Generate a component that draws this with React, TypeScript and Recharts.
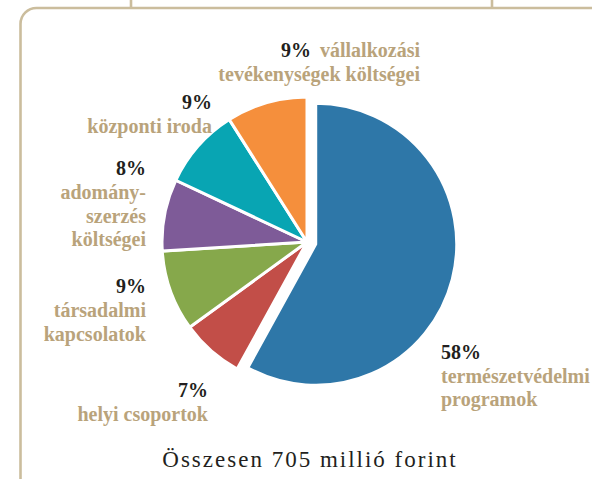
import { Cell, Pie, PieChart } from 'recharts';

// Költségmegoszlás – kördiagram, a nagy (kék) szelet kiemelve
const categories = [
  'természetvédelmi programok',
  'helyi csoportok',
  'társadalmi kapcsolatok',
  'adományszerzés költségei',
  'központi iroda',
  'vállalkozási tevékenységek költségei',
];
const shares = [58, 7, 9, 8, 9, 9];
const sliceColors = ['#2e77a8', '#c24e48', '#86a84b', '#7e5b98', '#08a5b3', '#f58f3c'];

// felirat sorai szeletenként
const labelLines = [
  ['természetvédelmi', 'programok'],
  ['helyi csoportok'],
  ['társadalmi', 'kapcsolatok'],
  ['adomány-', 'szerzés', 'költségei'],
  ['központi iroda'],
  ['vállalkozási', 'tevékenységek költségei'],
];
const totalText = 'Összesen 705 millió forint';

const W = 592;
const H = 479;
const CX = 307;
const CY = 242;
const R = 145;
const EXPLODE = 9;
const TAN = '#b9a37b';
const DARK = '#231f20';
const FRAME = '#cbbd9d';
const FONT = 'Liberation Serif';

const data = categories.map((name, i) => ({ name, value: shares[i] }));
const total = shares.reduce((a, b) => a + b, 0);

// kék szelet középszöge -> eltolás iránya
const midDeg = 90 - (shares[0] / total) * 360 / 2;
const bx = CX + EXPLODE * Math.cos((midDeg * Math.PI) / 180);
const by = CY - EXPLODE * Math.sin((midDeg * Math.PI) / 180);

const pct = (i: number) => `${shares[i]}%`;

export default function App() {
  return (
    <div style={{ position: 'absolute', left: 0, top: 0, width: W, height: H, background: '#fff' }}>
      <svg width={W} height={H} style={{ position: 'absolute', left: 0, top: 0 }}>
        <rect x={20.5} y={8} width={640} height={495} rx={16} fill="none" stroke={FRAME} strokeWidth={2.6} />
        <line x1={131} y1={0} x2={131} y2={8} stroke={FRAME} strokeWidth={2.6} />
        <line x1={492} y1={0} x2={492} y2={8} stroke={FRAME} strokeWidth={2.6} />
      </svg>
      <div style={{ position: 'absolute', left: 0, top: 0 }}>
        <PieChart width={W} height={H} margin={{ top: 0, right: 0, bottom: 0, left: 0 }}>
          <Pie
            data={data}
            dataKey="value"
            cx={CX}
            cy={CY}
            outerRadius={R}
            startAngle={90}
            endAngle={-270}
            stroke="#fff"
            strokeWidth={3}
            label={false}
            labelLine={false}
            isAnimationActive={false}
          >
            {data.map((d, i) => (
              <Cell key={d.name} fill={i === 0 ? 'none' : sliceColors[i]} stroke={i === 0 ? 'none' : '#fff'} />
            ))}
          </Pie>
          <Pie
            data={data}
            dataKey="value"
            cx={bx}
            cy={by}
            outerRadius={R - 4}
            startAngle={90}
            endAngle={-270}
            stroke="#fff"
            strokeWidth={3}
            label={false}
            labelLine={false}
            isAnimationActive={false}
          >
            {data.map((d, i) => (
              <Cell key={d.name} fill={i === 0 ? sliceColors[0] : 'none'} stroke={i === 0 ? '#fff' : 'none'} />
            ))}
          </Pie>
        </PieChart>
      </div>
      <svg width={W} height={H} style={{ position: 'absolute', left: 0, top: 0, pointerEvents: 'none' }}>
        <g fontFamily={FONT} fontSize={20} fontWeight={700}>
          {/* vállalkozási tevékenységek */}
          <text x={420} y={57} textAnchor="end">
            <tspan fill={DARK}>{pct(5)}</tspan>
            <tspan fill={TAN} dx={9}>{labelLines[5][0]}</tspan>
          </text>
          <text x={420} y={81} textAnchor="end" fill={TAN}>{labelLines[5][1]}</text>

          {/* központi iroda */}
          <text x={212} y={109} textAnchor="end" fill={DARK}>{pct(4)}</text>
          <text x={212} y={133} textAnchor="end" fill={TAN}>{labelLines[4][0]}</text>

          {/* adományszerzés */}
          <text x={146} y={175} textAnchor="end" fill={DARK}>{pct(3)}</text>
          {labelLines[3].map((t, k) => (
            <text key={t} x={146} y={199 + k * 23.5} textAnchor="end" fill={TAN}>{t}</text>
          ))}

          {/* társadalmi kapcsolatok */}
          <text x={146} y={293} textAnchor="end" fill={DARK}>{pct(2)}</text>
          {labelLines[2].map((t, k) => (
            <text key={t} x={146} y={317 + k * 24} textAnchor="end" fill={TAN}>{t}</text>
          ))}

          {/* helyi csoportok */}
          <text x={208} y={397} textAnchor="end" fill={DARK}>{pct(1)}</text>
          <text x={208} y={421} textAnchor="end" fill={TAN}>{labelLines[1][0]}</text>

          {/* természetvédelmi programok */}
          <text x={441} y={359} fill={DARK}>{pct(0)}</text>
          {labelLines[0].map((t, k) => (
            <text key={t} x={441} y={383 + k * 23} fill={TAN}>{t}</text>
          ))}
        </g>
        <text x={310} y={467} textAnchor="middle" fill={DARK} fontFamily={FONT} fontSize={23} letterSpacing={2}>
          {totalText}
        </text>
      </svg>
    </div>
  );
}
